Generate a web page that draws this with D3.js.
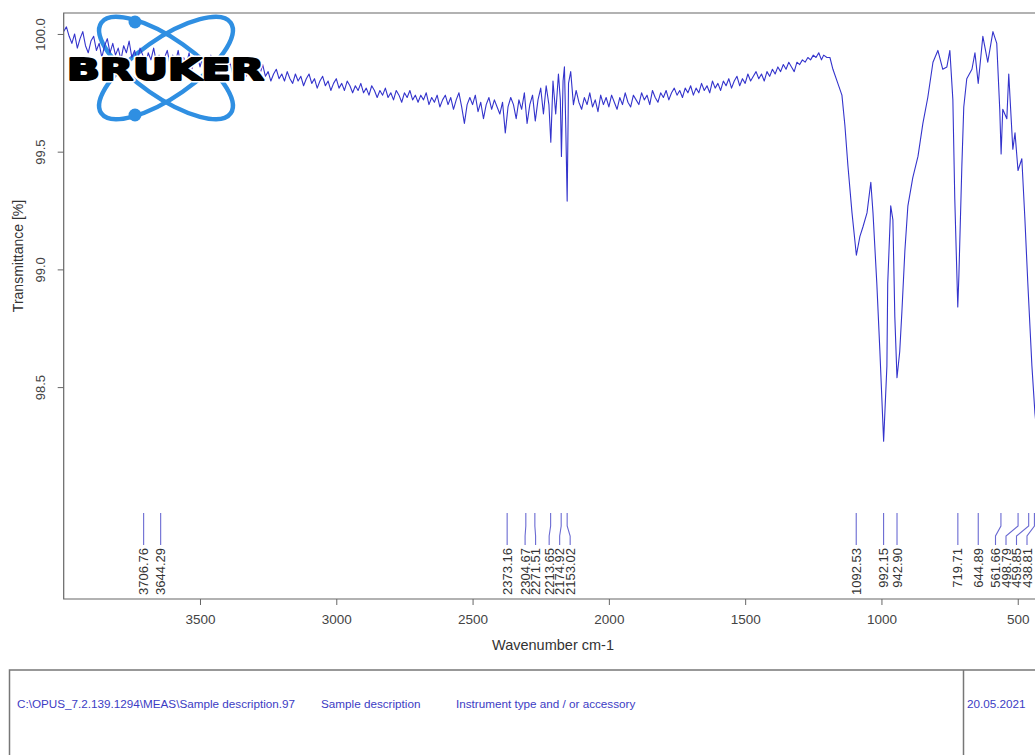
<!DOCTYPE html>
<html>
<head>
<meta charset="utf-8">
<script src="https://cdn.jsdelivr.net/npm/d3@7"></script>
<style>
  html, body { margin: 0; padding: 0; background: #fff; }
  svg { display: block; font-family: "Liberation Sans", Arial, sans-serif; }
</style>
</head>
<body>
<svg id="chart" width="1035" height="755"></svg>
<script>
// spectrum (wavenumber cm-1 / transmittance %)
// 4000 -> 2400 in 10 cm-1 steps
const wnHigh = d3.range(4000, 2399, -10);
const tHigh = [
  100.01, 100.03, 99.99, 99.96, 100.00, 99.94, 99.98, 100.01, 99.95, 99.92,
  99.97, 99.99, 99.93, 99.96, 99.90, 99.95, 99.98, 99.92, 99.96, 99.91,
  99.94, 99.89, 99.95, 99.92, 99.97, 99.90, 99.93, 99.88, 99.94, 99.91,
  99.86, 99.92, 99.89, 99.94, 99.88, 99.91, 99.85, 99.90, 99.93, 99.87,
  99.91, 99.88, 99.93, 99.86, 99.90, 99.87, 99.92, 99.85, 99.89, 99.91,
  99.86, 99.90, 99.84, 99.88, 99.91, 99.85, 99.89, 99.83, 99.87, 99.90,
  99.85, 99.88, 99.83, 99.86, 99.89, 99.84, 99.87, 99.82, 99.86, 99.84,
  99.81, 99.85, 99.83, 99.87, 99.82, 99.84, 99.80, 99.83, 99.85, 99.81,
  99.83, 99.80, 99.84, 99.81, 99.79, 99.83, 99.80, 99.82, 99.78, 99.81,
  99.83, 99.79, 99.81, 99.77, 99.80, 99.82, 99.78, 99.80, 99.76, 99.79,
  99.81, 99.77, 99.79, 99.76, 99.80, 99.78, 99.75, 99.78, 99.76, 99.79,
  99.75, 99.77, 99.74, 99.78, 99.76, 99.73, 99.76, 99.74, 99.77, 99.73,
  99.75, 99.72, 99.76, 99.74, 99.71, 99.75, 99.73, 99.76, 99.72, 99.74,
  99.71, 99.74, 99.72, 99.75, 99.70, 99.73, 99.71, 99.74, 99.69, 99.72,
  99.74, 99.70, 99.73, 99.68, 99.72, 99.75, 99.69, 99.62, 99.70, 99.73,
  99.70, 99.74, 99.67, 99.71, 99.64, 99.70, 99.73, 99.68, 99.72, 99.69,
  99.66
];
// the 2373 / 2300 / 2150 band cluster
const wnMid = [2390, 2380, 2370, 2360, 2350, 2340, 2330, 2320, 2310, 2300,
  2290, 2280, 2270, 2260, 2250, 2240, 2230, 2220, 2213, 2205,
  2195, 2185, 2178, 2174, 2168, 2163, 2158, 2153, 2148, 2140,
  2130, 2120, 2110];
const tMid = [99.71, 99.58, 99.69, 99.73, 99.70, 99.64, 99.72, 99.68, 99.75, 99.62,
  99.70, 99.74, 99.63, 99.72, 99.77, 99.66, 99.78, 99.70, 99.54, 99.80,
  99.66, 99.83, 99.72, 99.48, 99.80, 99.86, 99.60, 99.29, 99.79, 99.84,
  99.70, 99.76, 99.71];
// 2100 -> 1240 in 10 cm-1 steps
const wnLow = d3.range(2100, 1239, -10);
const tLow = [
  99.68, 99.73, 99.70, 99.75, 99.69, 99.72, 99.67, 99.74, 99.70, 99.73,
  99.69, 99.74, 99.71, 99.68, 99.73, 99.70, 99.75, 99.71, 99.69, 99.74,
  99.72, 99.70, 99.75, 99.72, 99.74, 99.70, 99.76, 99.73, 99.71, 99.75,
  99.73, 99.76, 99.72, 99.75, 99.77, 99.74, 99.76, 99.73, 99.77, 99.75,
  99.78, 99.74, 99.77, 99.75, 99.79, 99.76, 99.78, 99.75, 99.80, 99.77,
  99.79, 99.76, 99.80, 99.78, 99.81, 99.77, 99.80, 99.82, 99.78, 99.81,
  99.79, 99.83, 99.80, 99.82, 99.84, 99.81, 99.83, 99.80, 99.84, 99.82,
  99.85, 99.83, 99.86, 99.84, 99.87, 99.85, 99.88, 99.86, 99.84, 99.88,
  99.87, 99.89, 99.88, 99.90, 99.89, 99.91, 99.90
];
// fingerprint region
const wnFinger = [1230, 1220, 1212, 1200, 1189, 1178, 1160, 1145, 1134, 1123,
  1108, 1092, 1079, 1068, 1053, 1039, 1031, 1017, 1006, 992,
  980, 977, 966, 958, 951, 943, 933, 925, 914, 903,
  885, 866, 848, 830, 811, 793, 775, 760, 749, 738,
  731, 720, 716, 705, 698, 687, 668, 657, 645, 628,
  610, 591, 577, 566, 561, 555, 540, 533, 518, 510,
  499, 485, 474, 463, 448, 437, 420];
const tFinger = [99.92, 99.89, 99.91, 99.90, 99.90, 99.85, 99.79, 99.74, 99.61, 99.44,
  99.24, 99.06, 99.14, 99.18, 99.24, 99.37, 99.24, 98.94, 98.66, 98.27,
  98.59, 98.94, 99.27, 99.21, 98.80, 98.54, 98.65, 98.82, 99.08, 99.27,
  99.39, 99.48, 99.62, 99.73, 99.88, 99.93, 99.85, 99.86, 99.93, 99.72,
  99.30, 98.84, 98.97, 99.44, 99.69, 99.81, 99.85, 99.92, 99.79, 99.99,
  99.88, 100.01, 99.96, 99.68, 99.49, 99.68, 99.64, 99.83, 99.51, 99.58,
  99.42, 99.47, 99.22, 98.94, 98.59, 98.39, 98.20];

// picked peaks
const peakPositions = [3706.76, 3644.29, 2373.16, 2304.67, 2271.51, 2213.65, 2174.92, 2153.02,
  1092.53, 992.15, 942.90, 719.71, 644.89, 561.66, 498.79, 459.85, 438.81];

const xTicks = [3500, 3000, 2500, 2000, 1500, 1000, 500];
const yTicks = [98.5, 99.0, 99.5, 100.0];

const footerTexts = ['C:\\OPUS_7.2.139.1294\\MEAS\\Sample description.97', 'Sample description',
  'Instrument type and / or accessory'];
const footerDate = '20.05.2021';

const wavenumbers = wnHigh.concat(wnMid, wnLow, wnFinger);
const transmittance = tHigh.concat(tMid, tLow, tFinger);

const svg = d3.select('#chart');
const plot = {left: 63.7, top: 13, right: 1045, bottom: 599};

const x = d3.scaleLinear().domain([4000, 400]).range([plot.left, plot.right]);
const y = d3.scaleLinear().domain([97.6, 100.089]).range([plot.bottom, plot.top]);

const lineColor = '#3434cc';
const textColor = '#444';
const logoBlue = '#2f8fe2';

// logo orbits behind the trace
const logo = svg.append('g').attr('class', 'logo');
const cx = 166, cy = 68;
[35, -35].forEach(function(a) {
  logo.append('ellipse')
    .attr('cx', cx).attr('cy', cy)
    .attr('rx', 79).attr('ry', 29)
    .attr('transform', 'rotate(' + a + ',' + cx + ',' + cy + ')')
    .attr('fill', 'none')
    .attr('stroke', logoBlue)
    .attr('stroke-width', 4.5)
})
logo.append('circle').attr('cx', 135).attr('cy', 22).attr('r', 6.5).attr('fill', logoBlue)
logo.append('circle').attr('cx', 135).attr('cy', 115).attr('r', 6.5).attr('fill', logoBlue)

// spectrum trace
const pts = wavenumbers.map((w, i) => [w, transmittance[i]]);
svg.append('defs').append('clipPath').attr('id', 'clip')
  .append('rect').attr('x', plot.left).attr('y', plot.top)
  .attr('width', plot.right - plot.left).attr('height', plot.bottom - plot.top);

svg.append('path')
  .datum(pts)
  .attr('clip-path', 'url(#clip)')
  .attr('fill', 'none')
  .attr('stroke', lineColor)
  .attr('stroke-width', 1.1)
  .attr('stroke-linejoin', 'round')
  .attr('d', d3.line().x(d => x(d[0])).y(d => y(d[1])))

// BRUKER word on top: white halo first, then heavy black letters
const word = svg.append('g').attr('class', 'word')
;[['#fff', 5], ['#000', 2.2]].forEach(function(s) {
  word.append('text')
    .attr('x', 67).attr('y', 80)
    .attr('textLength', 197)
    .attr('lengthAdjust', 'spacingAndGlyphs')
    .style('font-family', '"DejaVu Sans", sans-serif')
    .style('font-weight', 'bold')
    .style('font-size', '31px')
    .attr('fill', '#000')
    .attr('stroke', s[0])
    .attr('stroke-width', s[1])
    .attr('stroke-linejoin', 'round')
    .text('BRUKER')
})

// frame
svg.append('path')
  .attr('d', 'M' + (plot.right + 5) + ',' + plot.top + 'H' + plot.left + 'V' + plot.bottom + 'H' + (plot.right + 5))
  .attr('fill', 'none')
  .attr('stroke', '#666')
  .attr('stroke-width', 1.2)

// x axis
const xAxis = d3.axisBottom(x).tickValues(xTicks).tickSize(6).tickPadding(9).tickFormat(d3.format('d'))
const xg = svg.append('g')
  .attr('transform', 'translate(0,' + plot.bottom + ')')
  .call(xAxis)
xg.select('.domain').remove()
xg.selectAll('line').attr('stroke', '#666')
xg.selectAll('text').attr('fill', textColor).style('font-size', '13.5px').style('font-family', '"Liberation Sans", Arial, sans-serif')

// y axis, labels turned
const yAxis = d3.axisLeft(y).tickValues(yTicks).tickSize(6).tickFormat(d3.format('.1f'))
const yg = svg.append('g')
  .attr('transform', 'translate(' + plot.left + ',0)')
  .call(yAxis)
yg.select('.domain').remove()
yg.selectAll('line').attr('stroke', '#666')
yg.selectAll('text')
  .attr('x', null).attr('dy', null)
  .attr('transform', 'translate(-19,0) rotate(-90)')
  .attr('text-anchor', 'middle')
  .attr('fill', textColor)
  .style('font-size', '13px')
  .style('font-family', '"Liberation Sans", Arial, sans-serif')

// axis titles
svg.append('text')
  .attr('x', 553).attr('y', 650)
  .attr('text-anchor', 'middle')
  .attr('fill', '#333')
  .style('font-size', '14.5px')
  .text('Wavenumber cm-1')

svg.append('text')
  .attr('transform', 'translate(23,256) rotate(-90)')
  .attr('text-anchor', 'middle')
  .attr('fill', '#333')
  .style('font-size', '14px')
  .text('Transmittance [%]')

// peak markers - spread crowded labels apart
const gap = 10.5, maxLabelX = 1027;
const peakX = peakPositions.map(p => x(p));
const labelX = peakX.slice();
for (let k = 0; k < 60; k++) {
  for (let i = 1; i < labelX.length; i++) {
    const d = labelX[i] - labelX[i - 1];
    if (d < gap) {
      labelX[i] += (gap - d) / 2;
      labelX[i - 1] -= (gap - d) / 2;
    }
  }
  for (let i = 0; i < labelX.length; i++) labelX[i] = Math.min(labelX[i], maxLabelX);
}

const marks = svg.append('g').attr('class', 'peaks')
marks.selectAll('path')
  .data(peakPositions)
  .enter().append('path')
  .attr('d', (p, i) => 'M' + peakX[i] + ',513V526L' + labelX[i] + ',536V545')
  .attr('fill', 'none')
  .attr('stroke', '#6a6ad2')
  .attr('stroke-width', 1.1)

marks.selectAll('text')
  .data(peakPositions)
  .enter().append('text')
  .attr('transform', (p, i) => 'translate(' + (labelX[i] + 4.5) + ',548) rotate(-90)')
  .attr('text-anchor', 'end')
  .attr('fill', '#333')
  .style('font-size', '13px')
  .text(p => p.toFixed(2))

// footer box
const foot = svg.append('g').attr('class', 'footer')
foot.append('path')
  .attr('d', 'M1040,670H9.5V760M963.5,670V760')
  .attr('fill', 'none')
  .attr('stroke', '#777')
  .attr('stroke-width', 1.5)

const footX = [17, 321, 456];
foot.selectAll('text.info')
  .data(footerTexts)
  .enter().append('text')
  .attr('class', 'info')
  .attr('x', (d, i) => footX[i])
  .attr('y', 708)
  .attr('fill', '#3c3cc4')
  .style('font-size', '11.7px')
  .text(d => d)

foot.append('text')
  .attr('x', 967).attr('y', 708)
  .attr('fill', '#3c3cc4')
  .style('font-size', '11.7px')
  .text(footerDate)
</script>
</body>
</html>
